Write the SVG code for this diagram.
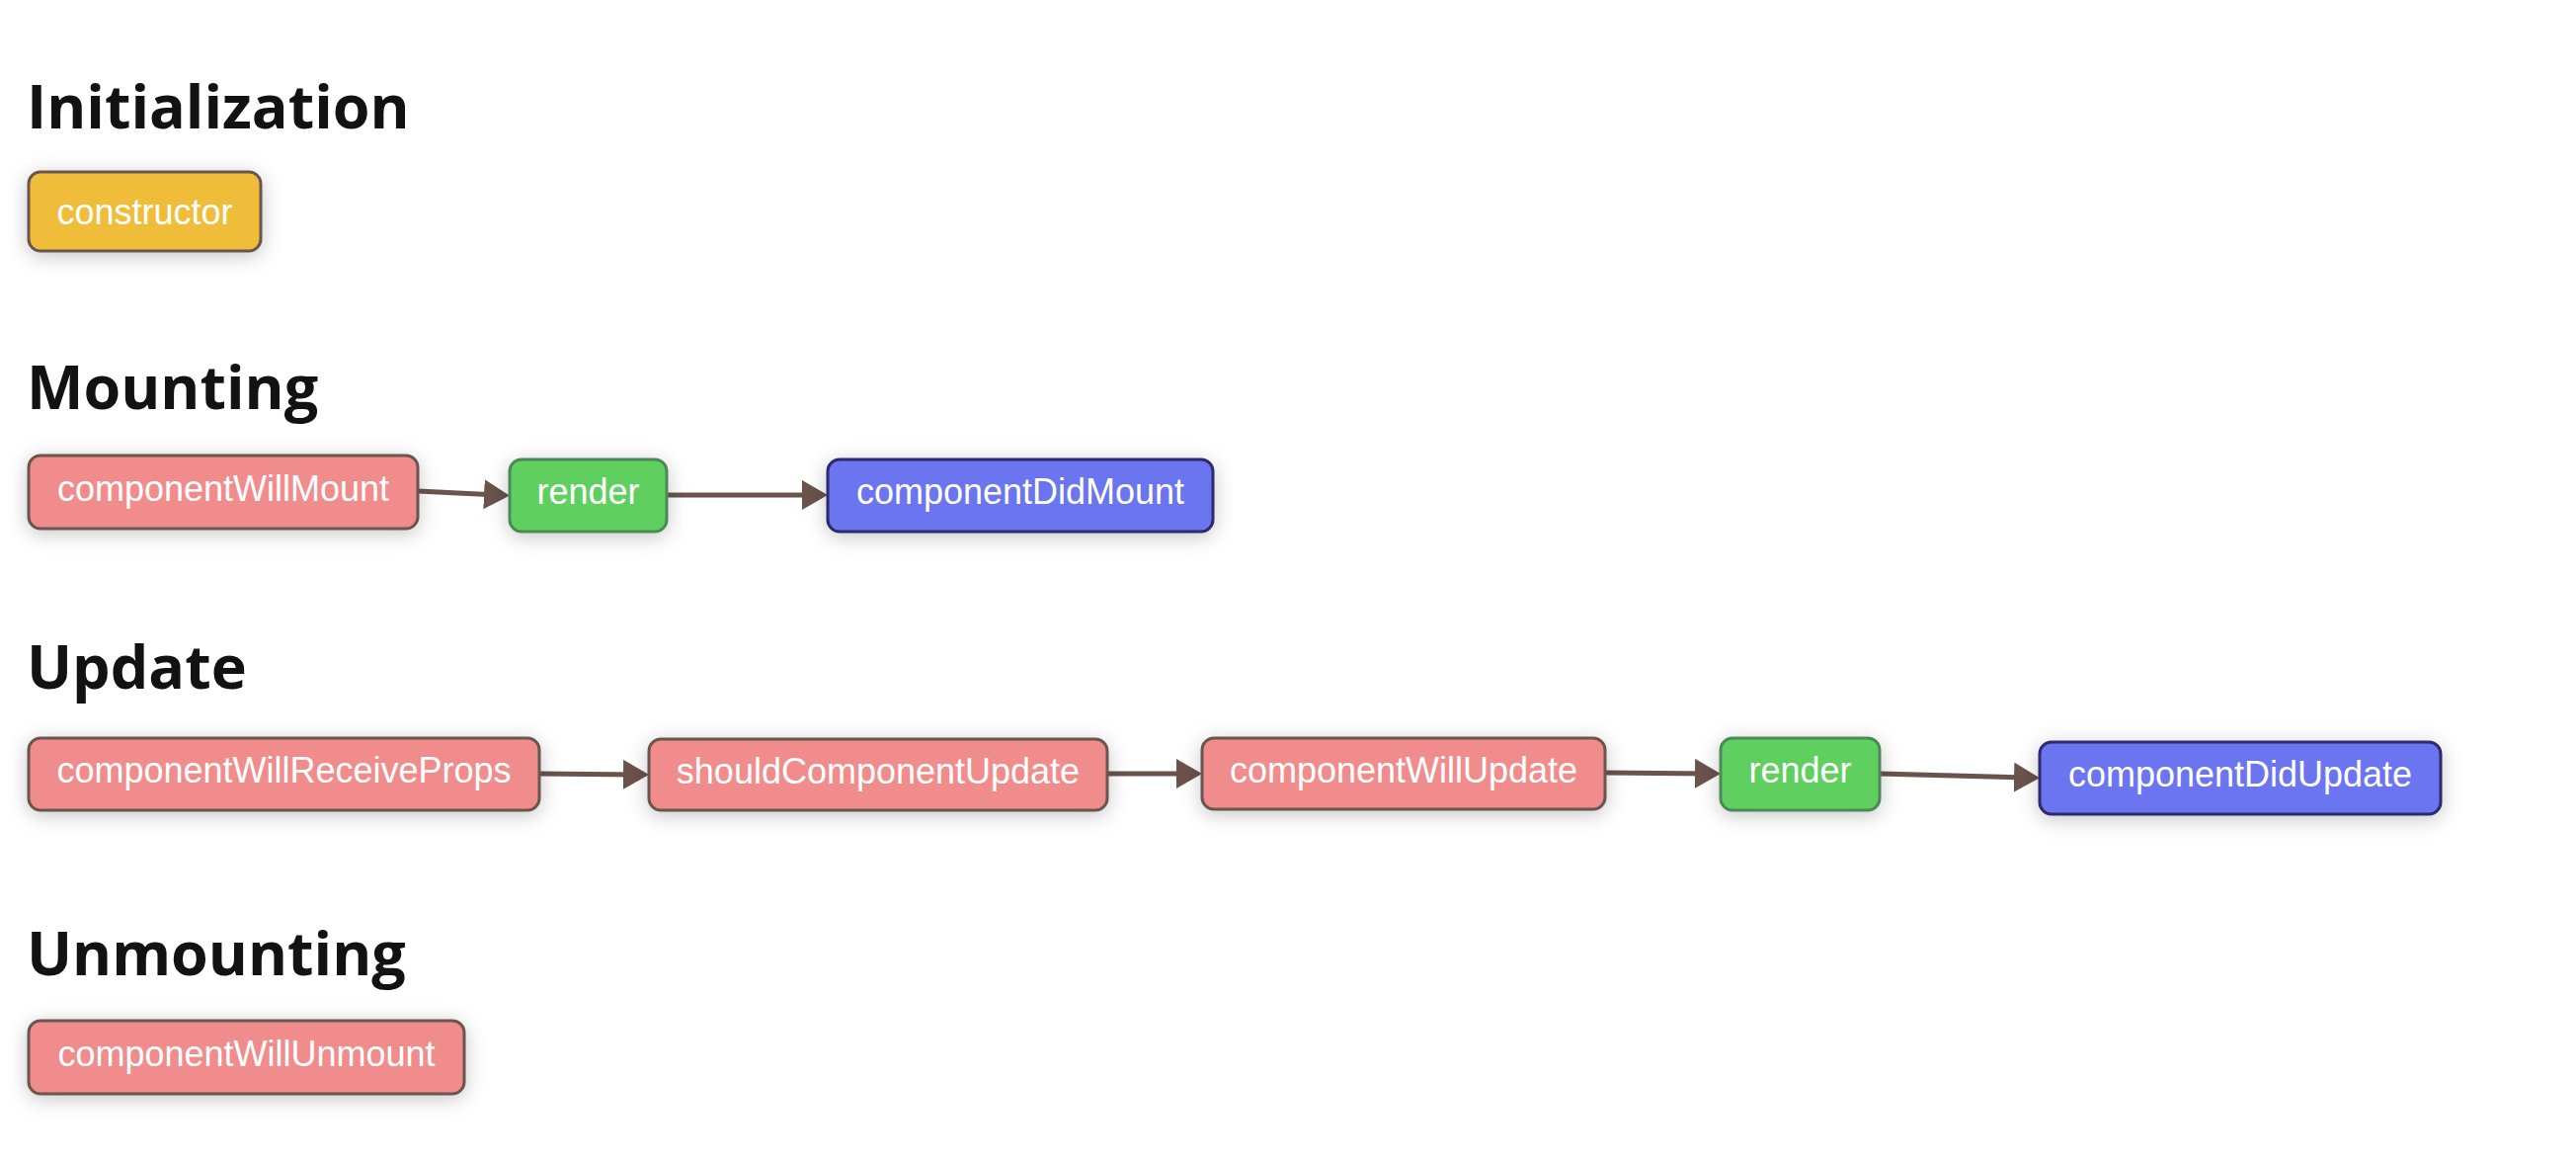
<svg xmlns="http://www.w3.org/2000/svg" width="2608" height="1176" viewBox="0 0 2608 1176">
  <defs>
    <filter id="shadow" x="-25%" y="-80%" width="150%" height="260%">
      <feDropShadow dx="0" dy="4" stdDeviation="10" flood-color="#000" flood-opacity="0.22"/>
    </filter>
    <marker id="arrow" markerUnits="userSpaceOnUse" markerWidth="28" markerHeight="32" refX="14" refY="15" orient="auto">
      <path d="M0,0 L26,15 L0,30 Z" fill="#6a524d"/>
    </marker>
  </defs>
  <style>
    .heading { font-family: "Open Sans", "Noto Sans", sans-serif; font-weight: 700; font-size: 61px; fill: #121212; }
    .node rect { stroke-width: 3; filter: url(#shadow); }
    .node text { font-family: "Liberation Sans", Arial, sans-serif; font-size: 36px; fill: #ffffff; text-anchor: middle; }
    .init rect { fill: #f0bd3a; stroke: #6b5550; }
    .hook rect { fill: #f08d8c; stroke: #6b5550; }
    .render rect { fill: #5fd05e; stroke: #4b8a58; }
    .did rect { fill: #6a74ef; stroke: #2d296c; }
    .edge { stroke: #6a524d; stroke-width: 5; fill: none; marker-end: url(#arrow); }
  </style>

  <rect width="2608" height="1176" fill="#ffffff"/>

  <!-- phase headings -->
  <text class="heading" x="27" y="130">Initialization</text>
  <text class="heading" x="27" y="414">Mounting</text>
  <text class="heading" x="27" y="697">Update</text>
  <text class="heading" x="27" y="987">Unmounting</text>

  <!-- lifecycle transitions -->
  <g id="connectors">
    <line class="edge" x1="423" y1="497" x2="504" y2="501"/>
    <line class="edge" x1="675" y1="501" x2="826" y2="501"/>
    <line class="edge" x1="546" y1="783" x2="645" y2="784"/>
    <line class="edge" x1="1121" y1="783" x2="1205" y2="783"/>
    <line class="edge" x1="1625" y1="782" x2="1730" y2="783"/>
    <line class="edge" x1="1903" y1="783" x2="2053" y2="787"/>
  </g>

  <!-- Initialization -->
  <g id="constructor" class="node init">
    <rect x="29" y="174" width="235" height="80" rx="12"/>
    <text x="146.5" y="227">constructor</text>
  </g>

  <!-- Mounting -->
  <g id="componentWillMount" class="node hook">
    <rect x="29" y="461" width="394" height="74" rx="12"/>
    <text x="226" y="507">componentWillMount</text>
  </g>
  <g id="render-mount" class="node render">
    <rect x="516" y="465" width="159" height="73" rx="12"/>
    <text x="595.5" y="510">render</text>
  </g>
  <g id="componentDidMount" class="node did">
    <rect x="838" y="465" width="390" height="73" rx="12"/>
    <text x="1033" y="510">componentDidMount</text>
  </g>

  <!-- Update -->
  <g id="componentWillReceiveProps" class="node hook">
    <rect x="29" y="747" width="517" height="73" rx="12"/>
    <text x="287.5" y="792">componentWillReceiveProps</text>
  </g>
  <g id="shouldComponentUpdate" class="node hook">
    <rect x="657" y="748" width="464" height="72" rx="12"/>
    <text x="889" y="793">shouldComponentUpdate</text>
  </g>
  <g id="componentWillUpdate" class="node hook">
    <rect x="1217" y="747" width="408" height="72" rx="12"/>
    <text x="1421" y="792">componentWillUpdate</text>
  </g>
  <g id="render-update" class="node render">
    <rect x="1742" y="747" width="161" height="73" rx="12"/>
    <text x="1822.5" y="792">render</text>
  </g>
  <g id="componentDidUpdate" class="node did">
    <rect x="2065" y="751" width="406" height="73" rx="12"/>
    <text x="2268" y="796">componentDidUpdate</text>
  </g>

  <!-- Unmounting -->
  <g id="componentWillUnmount" class="node hook">
    <rect x="29" y="1033" width="441" height="74" rx="12"/>
    <text x="249.5" y="1079">componentWillUnmount</text>
  </g>
</svg>
